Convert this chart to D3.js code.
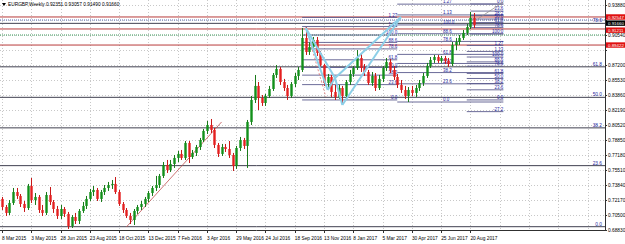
<!DOCTYPE html>
<html>
<head>
<meta charset="utf-8">
<script src="https://cdn.jsdelivr.net/npm/d3@7"></script>
<style>
  body { margin: 0; background: #fff; }
  svg text { font-family: "Liberation Sans", Arial, sans-serif; }
</style>
</head>
<body>
<div id="chart"></div>
<script>
// EURGBP weekly candles, first bar is the week of 8 Mar 2015
var opens = [.7229,.7139,.7073,.7184,.7306,.7262,.7173,.7128,.7373,.7217,
  .7251,.7106,.7073,.7273,.7195,.7117,.7039,.7117,.7062,.6928,
  .7028,.6984,.7095,.7151,.7229,.7306,.7329,.7229,.7306,.7351,
  .7384,.7396,.7306,.7173,.7106,.7039,.6995,.7095,.7139,.7173,
  .7229,.7295,.7351,.7384,.7485,.7607,.7551,.7618,.7685,.7730,
  .7685,.7852,.7696,.7741,.7807,.7885,.7986,.8052,.7997,.7830,
  .7730,.7807,.7785,.7718,.7596,.7796,.7885,.7819,.8086,.8331,
  .8487,.8353,.8297,.8375,.8453,.8609,.8676,.8531,.8464,.8375,
  .8509,.8598,.8665,.9021,.8865,.8921,.8999,.8854,.8720,.8520,
  .8587,.8420,.8364,.8464,.8375,.8531,.8620,.8687,.8798,.8687,
  .8642,.8520,.8598,.8464,.8565,.8687,.8754,.8665,.8587,.8498,
  .8442,.8375,.8442,.8409,.8464,.8520,.8598,.8709,.8776,.8809,
  .8765,.8798,.8765,.8731,.8943,.8976,.9021,.9077,.9143,.9244];
var highs = [.7251,.7162,.7217,.7351,.7351,.7284,.7206,.7396,.7462,.7295,
  .7273,.7162,.7306,.7362,.7217,.7151,.7162,.7139,.7084,.7050,
  .7073,.7117,.7195,.7262,.7340,.7373,.7351,.7329,.7384,.7418,
  .7440,.7473,.7329,.7195,.7128,.7073,.7117,.7162,.7206,.7251,
  .7318,.7373,.7485,.7507,.7640,.7663,.7663,.7718,.7763,.7774,
  .7874,.7874,.7774,.7830,.7908,.8008,.8097,.8119,.8019,.7852,
  .7841,.7841,.7874,.7741,.7819,.7919,.7908,.8108,.8375,.8609,
  .8531,.8386,.8398,.8487,.8631,.8720,.8698,.8565,.8498,.8531,
  .8631,.8698,.9132,.9143,.8976,.9032,.9032,.8876,.8731,.8620,
  .8609,.8498,.8498,.8487,.8553,.8665,.8709,.8887,.8843,.8731,
  .8665,.8642,.8631,.8609,.8709,.8798,.8787,.8709,.8620,.8553,
  .8487,.8475,.8487,.8498,.8553,.8631,.8743,.8809,.8832,.8832,
  .8821,.8821,.8798,.8976,.9021,.9054,.9110,.9177,.9310,.9299];
var lows = [.7106,.7039,.7050,.7162,.7229,.7139,.7084,.7106,.7184,.7162,
  .7073,.7039,.7050,.7162,.7073,.7006,.7006,.7028,.6895,.6906,
  .6950,.6950,.7073,.7117,.7206,.7262,.7206,.7195,.7273,.7318,
  .7340,.7284,.7151,.7073,.7017,.6950,.6939,.7062,.7106,.7139,
  .7195,.7262,.7318,.7351,.7462,.7518,.7529,.7574,.7640,.7663,
  .7663,.7629,.7674,.7707,.7774,.7863,.7952,.7963,.7796,.7696,
  .7707,.7752,.7685,.7540,.7563,.7763,.7785,.7574,.8052,.8297,
  .8219,.8264,.8264,.8353,.8431,.8576,.8498,.8431,.8331,.8353,
  .8475,.8553,.8642,.8832,.8832,.8887,.8821,.8698,.8487,.8464,
  .8364,.8331,.8342,.8297,.8342,.8498,.8587,.8665,.8642,.8598,
  .8498,.8487,.8431,.8442,.8531,.8654,.8631,.8553,.8464,.8409,
  .8342,.8308,.8375,.8364,.8431,.8487,.8576,.8687,.8743,.8743,
  .8743,.8731,.8698,.8709,.8887,.8943,.8999,.9054,.9121,.9132];
var closes = [.7139,.7073,.7184,.7306,.7262,.7173,.7128,.7373,.7217,.7251,
  .7106,.7073,.7273,.7195,.7117,.7039,.7117,.7062,.6928,.7028,
  .6984,.7095,.7151,.7229,.7306,.7329,.7229,.7306,.7351,.7384,
  .7396,.7306,.7173,.7106,.7039,.6995,.7095,.7139,.7173,.7229,
  .7295,.7351,.7384,.7485,.7607,.7551,.7618,.7685,.7730,.7685,
  .7852,.7696,.7741,.7807,.7885,.7986,.8052,.7997,.7830,.7730,
  .7807,.7785,.7718,.7596,.7796,.7885,.7819,.8086,.8331,.8487,
  .8353,.8297,.8375,.8453,.8609,.8676,.8531,.8464,.8375,.8509,
  .8598,.8665,.9021,.8865,.8921,.8999,.8854,.8720,.8520,.8587,
  .8420,.8364,.8464,.8375,.8531,.8620,.8687,.8798,.8687,.8642,
  .8520,.8598,.8464,.8565,.8687,.8754,.8665,.8587,.8498,.8442,
  .8375,.8442,.8409,.8464,.8520,.8598,.8709,.8776,.8809,.8765,
  .8798,.8765,.8731,.8943,.8976,.9021,.9077,.9143,.9244,.9166];

var titleText = "EURGBP,Weekly  0.92351 0.93057 0.91490 0.91660";

// price scale labels
var priceTicks = [0.93880,0.92210,0.90540,0.88870,0.87200,0.85530,0.83860,0.82190,
  0.80520,0.78850,0.77180,0.75510,0.73840,0.72170,0.70500,0.68830];

// time scale labels (every 8 weeks)
var dateLabels = ["8 Mar 2015","3 May 2015","28 Jun 2015","23 Aug 2015","18 Oct 2015",
  "13 Dec 2015","7 Feb 2016","3 Apr 2016","29 May 2016","24 Jul 2016","18 Sep 2016",
  "13 Nov 2016","8 Jan 2017","5 Mar 2017","30 Apr 2017","25 Jun 2017","20 Aug 2017"];
var dateWeeks = [0,8,16,24,32,40,48,56,64,72,80,88,96,104,112,120,128];
var gridWeeks = [0,8,16,24,32,40,48,56,64,72,80,88,96,104,112,120,128,136,144,152,160];

// long fibonacci (full width)
var bigFibLevels = [0, 23.6, 38.2, 50, 61.8, 78.6];
var bigFibZero = 0.6920, bigFibFull = 0.9800;

// horizontal red lines and the last price
var redLevels = [0.92547, 0.91211, 0.89422];
var dottedBlue = 0.9221, dottedGreen = 0.9054;
var lastPrice = 0.91660;
// small vertical nudges of the axis tags so they do not sit on each other
var redTagShift = [0, 1.2, 0];
var lastTagShift = -1.8;

// smaller fibonacci tools on the right part
var fibFrom  = [82, 108, 128, 127];
var fibTo    = [108, 137, 137, 137];
var fibZero  = [0.8331, 0.8308, 0.9399, 0.8331];
var fibFull  = [0.9054, 0.9166, 0.9065, 0.8809];
var fibLabelAt = [108, 120.5, 137, 137];
var fibAnchor  = ["end", "start", "end", "end"];
var fibLevelsLong  = [0, 23.6, 38.2, 50, 61.8, 78.6, 88.6, 100, 113, 127];
var fibLevelsShort = [0, 23.6, 38.2, 50, 61.8, 78.6, 100];
var fibLevelsExt   = [-27.2, 0, 23.6, 38.2, 50, 61.8, 78.6, 88.6, 100, 113, 127];
var fibLevelSets = [fibLevelsLong, fibLevelsLong, fibLevelsShort, fibLevelsExt];

// harmonic pattern X A B C D
var harmWeeks  = [83, 89, 91, 93, 109];
var harmPrices = [0.9132, 0.8442, 0.8576, 0.8275, 0.9255];
var harmLegs = [[0,1],[1,2],[0,2],[2,3],[3,4],[2,4]];

// trend lines
var trendWeeks = [34, 60], trendPrices = [0.6917, 0.8086];
var zigWeeks = [83, 88.5], zigPrices = [0.9143, 0.8364];
var topLineWeeks = [130, 137], topLinePrices = [0.9233, 0.9422];

var W = 625, H = 244, plotR = 605, plotB = 230;

var vis = d3.select("#chart").append("svg")
  .attr("width", W).attr("height", H);
vis.append("rect").attr("width", W).attr("height", H).attr("fill", "#fff");

var x = d3.scaleLinear().domain([0, 129]).range([2, 474.1]);
var y = d3.scaleLinear().domain([0.6881, 0.9388]).range([230.2, 5.0]);

vis.append("clipPath").attr("id", "plot")
  .append("rect").attr("x", 0).attr("y", 0).attr("width", plotR).attr("height", plotB);
var plot = vis.append("g").attr("clip-path", "url(#plot)");

// grid
plot.selectAll("line.vgrid").data(gridWeeks).enter().append("line")
  .attr("x1", d => Math.round(x(d)) + 0.5).attr("x2", d => Math.round(x(d)) + 0.5)
  .attr("y1", 0).attr("y2", plotB)
  .attr("stroke", "#c8c8c8").attr("stroke-dasharray", "1,2");
plot.selectAll("line.hgrid").data(priceTicks).enter().append("line")
  .attr("x1", 0).attr("x2", plotR)
  .attr("y1", d => Math.round(y(d)) + 0.5).attr("y2", d => Math.round(y(d)) + 0.5)
  .attr("stroke", "#c8c8c8").attr("stroke-dasharray", "1,2");

// big fib levels across the chart
var bigY = d => y(bigFibZero + (bigFibFull - bigFibZero) * d / 100);
plot.selectAll("line.bigfib").data(bigFibLevels).enter().append("line")
  .attr("x1", 0).attr("x2", plotR)
  .attr("y1", bigY).attr("y2", bigY)
  .attr("stroke", "#404050").attr("stroke-width", 1);
plot.selectAll("text.bigfib").data(bigFibLevels).enter().append("text")
  .attr("x", 602).attr("text-anchor", "end")
  .attr("y", d => bigY(d) - 1)
  .attr("font-size", 4.8).attr("fill", "#2828a0")
  .text(d => d.toFixed(1));

// red horizontal lines and dotted lines
plot.selectAll("line.red").data(redLevels).enter().append("line")
  .attr("x1", 0).attr("x2", plotR)
  .attr("y1", d => y(d)).attr("y2", d => y(d))
  .attr("stroke", "#b83a3a").attr("stroke-width", 1);
plot.append("line").attr("x1", 0).attr("x2", plotR)
  .attr("y1", y(dottedBlue)).attr("y2", y(dottedBlue))
  .attr("stroke", "#5a6ab0").attr("stroke-dasharray", "1,1");
plot.append("line").attr("x1", 0).attr("x2", plotR)
  .attr("y1", y(dottedGreen)).attr("y2", y(dottedGreen))
  .attr("stroke", "#3a9a5a").attr("stroke-dasharray", "1,1");

// fibonacci tools on the right part
fibFrom.forEach(function(f, k) {
  var lv = fibLevelSets[k];
  var py = d => y(fibZero[k] + (fibFull[k] - fibZero[k]) * d / 100);
  plot.selectAll("line.fib" + k).data(lv).enter().append("line")
    .attr("x1", x(f)).attr("x2", x(fibTo[k]))
    .attr("y1", py).attr("y2", py)
    .attr("stroke", "#5a5a8c").attr("stroke-width", 0.9);
  plot.selectAll("text.fib" + k).data(lv).enter().append("text")
    .attr("x", x(fibLabelAt[k])).attr("text-anchor", fibAnchor[k])
    .attr("y", d => py(d) - 0.8)
    .attr("font-size", 4.5).attr("fill", "#2828a0")
    .text(d => d > 100 ? (d / 100).toFixed(2) : d.toFixed(1));
});

// trend lines
plot.append("line")
  .attr("x1", x(trendWeeks[0])).attr("y1", y(trendPrices[0]))
  .attr("x2", x(trendWeeks[1])).attr("y2", y(trendPrices[1]))
  .attr("stroke", "#c05050").attr("stroke-width", 0.8);
plot.append("line")
  .attr("x1", x(zigWeeks[0])).attr("y1", y(zigPrices[0]))
  .attr("x2", x(zigWeeks[1])).attr("y2", y(zigPrices[1]))
  .attr("stroke", "#e07070").attr("stroke-width", 0.8).attr("stroke-dasharray", "2,2");
plot.append("line")
  .attr("x1", x(topLineWeeks[0])).attr("y1", y(topLinePrices[0]))
  .attr("x2", x(topLineWeeks[1])).attr("y2", y(topLinePrices[1]))
  .attr("stroke", "#909090").attr("stroke-width", 0.8);

// candles
var bars = d3.range(closes.length);
var up = i => closes[i] >= opens[i];
plot.selectAll("line.wick").data(bars).enter().append("line")
  .attr("x1", i => Math.round(x(i)) + 0.5).attr("x2", i => Math.round(x(i)) + 0.5)
  .attr("y1", i => y(highs[i])).attr("y2", i => y(lows[i]))
  .attr("stroke", i => up(i) ? "#1a7a1a" : "#c81818");
plot.selectAll("rect.body").data(bars).enter().append("rect")
  .attr("x", i => Math.round(x(i)) - 0.7).attr("width", 2.4)
  .attr("y", i => y(Math.max(opens[i], closes[i])))
  .attr("height", i => Math.max(1, Math.abs(y(opens[i]) - y(closes[i]))))
  .attr("fill", i => up(i) ? "#12901a" : "#e42020");

// harmonic pattern
plot.selectAll("line.harm").data(harmLegs).enter().append("line")
  .attr("x1", d => x(harmWeeks[d[0]])).attr("y1", d => y(harmPrices[d[0]]))
  .attr("x2", d => x(harmWeeks[d[1]])).attr("y2", d => y(harmPrices[d[1]]))
  .attr("stroke", "#8ccfe8").attr("stroke-width", 2);

// axes frame
vis.append("line").attr("x1", plotR + 0.5).attr("x2", plotR + 0.5)
  .attr("y1", 0).attr("y2", plotB + 0.5).attr("stroke", "#303030");
vis.append("line").attr("x1", 0).attr("x2", plotR + 0.5)
  .attr("y1", plotB + 0.5).attr("y2", plotB + 0.5).attr("stroke", "#303030");

// price labels (the ones hidden behind a coloured tag are left out, as in the terminal)
var tagPrices = redLevels.concat([lastPrice]);
var freeTicks = priceTicks.filter(t => tagPrices.every(v => Math.abs(y(t) - y(v)) > 6));
vis.selectAll("text.price").data(freeTicks).enter().append("text")
  .attr("x", 608).attr("y", d => y(d) + 1.8)
  .attr("font-size", 4.8).attr("fill", "#000")
  .text(d => d.toFixed(5));
vis.selectAll("line.ptick").data(priceTicks).enter().append("line")
  .attr("x1", plotR).attr("x2", plotR + 2)
  .attr("y1", d => Math.round(y(d)) + 0.5).attr("y2", d => Math.round(y(d)) + 0.5)
  .attr("stroke", "#303030");

var tags = redLevels.map((v, i) => ({v: v, c: "#e01010", s: redTagShift[i]}))
  .concat([{v: lastPrice, c: "#000", s: lastTagShift}]);
var tag = vis.selectAll("g.tag").data(tags).enter().append("g")
  .attr("transform", d => "translate(" + (plotR + 1) + "," + (y(d.v) + d.s) + ")");
tag.append("rect").attr("x", 0).attr("y", -2.7).attr("width", 19).attr("height", 5.4)
  .attr("fill", d => d.c);
tag.append("text").attr("x", 2).attr("y", 1.6).attr("font-size", 4.4)
  .attr("fill", "#fff").text(d => d.v.toFixed(5));

// date labels
vis.selectAll("text.date").data(dateWeeks).enter().append("text")
  .attr("x", d => x(d)).attr("y", 239.5)
  .attr("font-size", 4.8).attr("fill", "#000")
  .text((d, i) => dateLabels[i]);
vis.selectAll("line.dtick").data(dateWeeks).enter().append("line")
  .attr("x1", d => Math.round(x(d)) + 0.5).attr("x2", d => Math.round(x(d)) + 0.5)
  .attr("y1", plotB).attr("y2", plotB + 3).attr("stroke", "#303030");

// title
vis.append("path").attr("d", "M2,3 L6,3 L4,6 Z").attr("fill", "#000");
vis.append("text").attr("x", 8).attr("y", 6.3).attr("font-size", 4.8)
  .attr("fill", "#000").text(titleText);
</script>
</body>
</html>
